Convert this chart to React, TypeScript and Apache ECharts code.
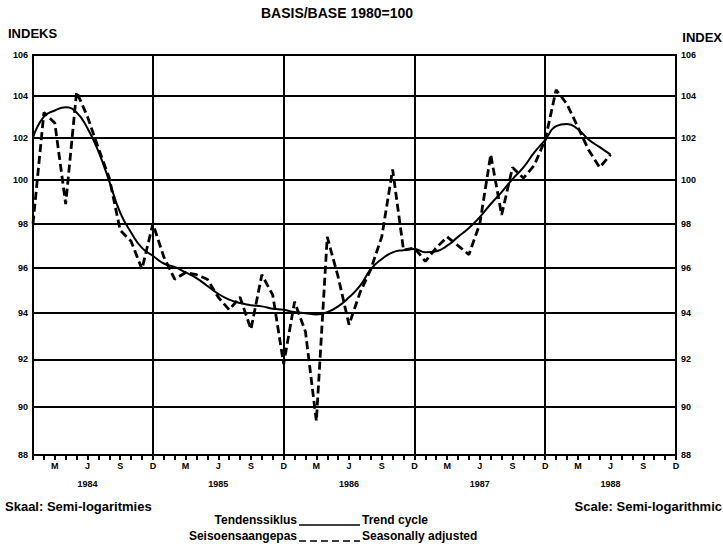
import React, { useEffect, useRef } from "react";
import * as echarts from "echarts";

const years = [1984, 1985, 1986, 1987, 1988];
const monthLetters = ["J", "F", "M", "A", "M", "J", "J", "A", "S", "O", "N", "D"];
const categories: string[] = years.flatMap((y) =>
  monthLetters.map((_, m) => `${y}-${String(m + 1).padStart(2, "0")}`)
);
const labelledMonths = [3, 6, 9, 12];
const yearLabelMonth = 6;
const gridMonth = 12;
const yTicks = [88, 90, 92, 94, 96, 98, 100, 102, 104, 106];

// Seisoensaangepas / Seasonally adjusted (Jan 1984 .. Jun 1988)
const seasonallyAdjusted = [
  98.0, 103.2, 102.7, 98.9, 104.2, 103.0, 101.5, 100.1, 97.7, 97.2, 95.95, 98.0,
  96.5, 95.5, 95.8, 95.7, 95.5, 94.7, 94.15, 94.7, 93.3, 95.7, 94.8, 91.8,
  94.5, 93.2, 89.4, 97.4, 95.6, 93.5, 94.9, 95.95, 97.4, 100.5, 96.8, 96.9,
  96.3, 96.9, 97.4, 97.0, 96.6, 98.0, 101.2, 98.4, 100.6, 100.1, 100.7, 101.9,
  104.3, 103.6, 102.5, 101.4, 100.6, 101.2,
];

// Tendenssiklus / Trend cycle
const trendCycle = [
  102.0, 103.0, 103.3, 103.45, 103.2, 102.45, 101.35, 99.95, 98.5, 97.6, 96.9, 96.55,
  96.2, 96.05, 95.8, 95.55, 95.2, 94.85, 94.6, 94.45, 94.35, 94.3, 94.2, 94.15,
  94.05, 94.0, 93.95, 94.05, 94.3, 94.7, 95.2, 95.95, 96.4, 96.7, 96.8, 96.85,
  96.7, 96.75, 97.0, 97.4, 97.8, 98.3, 98.9, 99.45, 100.05, 100.6, 101.3, 101.9,
  102.55, 102.65, 102.4, 101.9, 101.55, 101.2,
];

const FONT = "'Liberation Sans', Arial, sans-serif";

const monthOf = (v: string) => Number(v.slice(5));

export default function App() {
  const ref = useRef<HTMLDivElement>(null);

  useEffect(() => {
    if (!ref.current) return;
    const chart = echarts.init(ref.current, undefined, { renderer: "svg" });

    const txt = (
      text: string,
      x: number,
      y: number,
      size: number,
      align: string = "left"
    ) => ({
      type: "text",
      x,
      y,
      silent: true,
      style: {
        text,
        fill: "#000",
        font: `bold ${size}px ${FONT}`,
        textAlign: align,
        align,
        textVerticalAlign: "middle",
        verticalAlign: "middle",
      },
    });

    const option: any = {
      animation: false,
      backgroundColor: "#fff",
      grid: {
        left: 33,
        right: 47,
        top: 55,
        bottom: 94,
        show: true,
        borderColor: "#000",
        borderWidth: 2,
        backgroundColor: "transparent",
      },
      xAxis: [
        {
          type: "category",
          data: categories,
          boundaryGap: false,
          axisLine: { show: true, lineStyle: { color: "#000", width: 2 } },
          axisTick: { show: true, interval: 0, length: 5, lineStyle: { color: "#000", width: 2 } },
          axisLabel: {
            interval: 0,
            margin: 6,
            fontSize: 9,
            fontWeight: "bold",
            fontFamily: FONT,
            color: "#000",
            formatter: (v: string) =>
              labelledMonths.includes(monthOf(v)) ? monthLetters[monthOf(v) - 1] : "",
          },
          splitLine: {
            show: true,
            interval: (_i: number, v: string) => monthOf(v) === gridMonth,
            lineStyle: { color: "#000", width: 2 },
          },
        },
        {
          type: "category",
          data: categories,
          boundaryGap: false,
          position: "bottom",
          offset: 18,
          axisLine: { show: false },
          axisTick: { show: false },
          splitLine: { show: false },
          axisLabel: {
            interval: 0,
            margin: 6,
            fontSize: 9,
            fontWeight: "bold",
            fontFamily: FONT,
            color: "#000",
            formatter: (v: string) => (monthOf(v) === yearLabelMonth ? v.slice(0, 4) : ""),
          },
        },
      ],
      yAxis: {
        type: "log",
        logBase: 10,
        min: 88,
        max: 106,
        axisLine: { show: true, lineStyle: { color: "#000", width: 2 } },
        axisTick: { show: false },
        axisLabel: { show: false },
        splitLine: { show: false },
        minorTick: { show: false },
        minorSplitLine: { show: false },
      },
      series: [
        {
          type: "line",
          name: "Seasonally adjusted",
          data: seasonallyAdjusted,
          symbol: "none",
          smooth: false,
          z: 4,
          lineStyle: { color: "#000", width: 2.8, type: [8, 4] },
          markLine: {
            silent: true,
            symbol: "none",
            animation: false,
            lineStyle: { color: "#000", width: 2, type: "solid" },
            label: {
              color: "#000",
              fontSize: 9,
              fontWeight: "bold",
              fontFamily: FONT,
              distance: 5,
            },
            emphasis: { disabled: true },
            data: yTicks.flatMap((v) => [
              { yAxis: v, label: { position: "start", formatter: String(v) } },
              { yAxis: v, label: { position: "end", formatter: String(v) } },
            ]),
          },
        },
        {
          type: "line",
          name: "Trend cycle",
          data: trendCycle,
          symbol: "none",
          smooth: true,
          z: 5,
          lineStyle: { color: "#000", width: 2, type: "solid" },
        },
      ],
      graphic: [
        txt("BASIS/BASE 1980=100", 337, 13, 14, "center"),
        txt("INDEKS", 8, 33, 13, "left"),
        txt("INDEX", 722, 37, 13, "right"),
        txt("Skaal: Semi-logaritmies", 5, 506, 13, "left"),
        txt("Scale: Semi-logarithmic", 722, 506, 13, "right"),
        txt("Tendenssiklus", 297, 520, 12, "right"),
        txt("Trend cycle", 362, 520, 12, "left"),
        txt("Seisoensaangepas", 297, 536, 12, "right"),
        txt("Seasonally adjusted", 362, 536, 12, "left"),
        {
          type: "line",
          silent: true,
          shape: { x1: 299, y1: 525, x2: 360, y2: 525 },
          style: { stroke: "#000", lineWidth: 1.5 },
        },
        {
          type: "line",
          silent: true,
          shape: { x1: 299, y1: 541, x2: 360, y2: 541 },
          style: { stroke: "#000", lineWidth: 1.5, lineDash: [7, 4] },
        },
      ],
    };

    chart.setOption(option);
    return () => chart.dispose();
  }, []);

  return (
    <div
      ref={ref}
      style={{
        position: "absolute",
        left: 0,
        top: 0,
        width: 723,
        height: 549,
        background: "#fff",
      }}
    />
  );
}
